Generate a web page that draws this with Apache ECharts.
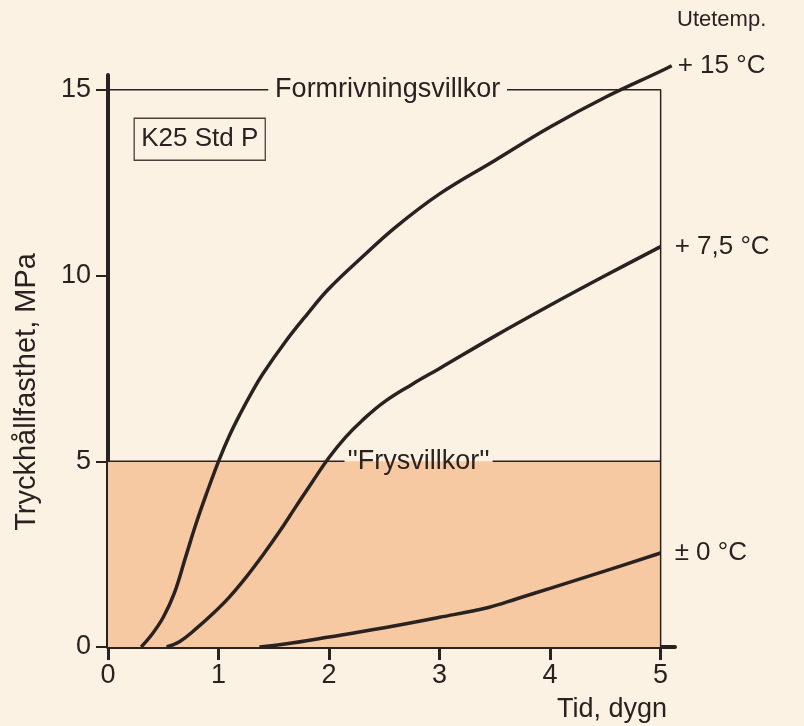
<!DOCTYPE html>
<html><head><meta charset="utf-8">
<script src="https://cdn.jsdelivr.net/npm/echarts@6/dist/echarts.min.js"></script>
<style>html,body{margin:0;padding:0;background:#fbf2e4}#c{width:804px;height:726px}</style>
</head><body><div id="c"></div>
<script>
// tick labels
const xTicks = [0, 1, 2, 3, 4, 5];
const yTicks = [0, 5, 10, 15];
// +15 °C
const t15 = [0.3, 0.4, 0.5, 0.6, 0.7, 0.8, 0.9, 1.0, 1.1, 1.2, 1.3, 1.4, 1.6, 1.8, 2.0, 2.3, 2.6, 3.0, 3.5, 4.0, 4.5, 5.0, 5.1];
const v15 = [0, 0.35, 0.8, 1.45, 2.4, 3.35, 4.2, 5.0, 5.7, 6.3, 6.85, 7.35, 8.2, 8.95, 9.65, 10.5, 11.3, 12.2, 13.1, 14.0, 14.8, 15.5, 15.65];
// +7,5 °C
const t75 = [0.53, 0.65, 0.8, 0.95, 1.1, 1.25, 1.4, 1.55, 1.7, 1.85, 2.0, 2.15, 2.3, 2.5, 2.75, 3.0, 3.5, 4.0, 4.5, 5.0];
const v75 = [0, 0.15, 0.5, 0.9, 1.35, 1.88, 2.47, 3.1, 3.78, 4.45, 5.1, 5.65, 6.1, 6.6, 7.07, 7.5, 8.37, 9.2, 10.0, 10.78];
// ±0 °C
const t0 = [1.37, 1.6, 2.0, 2.5, 3.0, 3.45, 3.7, 4.0, 4.5, 5.0];
const v0 = [0, 0.08, 0.27, 0.52, 0.8, 1.07, 1.3, 1.58, 2.05, 2.53];
// conditions
const frysLevel = 5;
const formLevel = 15;
const tEnd = 5;
const curveNames = ['+ 15 °C', '+ 7,5 °C', '± 0 °C'];

const zip = (a, b) => a.map((x, i) => [x, b[i]]);
const FONT = '"Liberation Sans", Arial, Helvetica, sans-serif';
const INK = '#2a2220';
const CREAM = '#fbf2e4';
const ORANGE = '#f6c9a2';
const FS = 27;

const chart = echarts.init(document.getElementById('c'));

function curve(name, t, v, dist) {
  return {
    type: 'line', name: name, data: zip(t, v), smooth: 0.4,
    symbol: 'none', z: 5, clip: false,
    lineStyle: { color: INK, width: 3.5 },
    endLabel: { show: true, formatter: name, distance: dist, fontSize: FS - 1, color: INK, fontFamily: FONT }
  };
}
function seg(data, w) {
  return { type: 'line', data: data, symbol: 'none', z: 3, silent: true,
    lineStyle: { color: INK, width: w } };
}
function textMark(txt, x, y, extra) {
  return { type: 'scatter', symbolSize: 0, z: 6, silent: true,
    itemStyle: { opacity: 1 },
    data: [[x, y]],
    label: Object.assign({ show: true, position: 'inside', formatter: txt, fontSize: FS, color: INK, opacity: 1, fontFamily: FONT }, extra || {}) };
}

chart.setOption({
  backgroundColor: CREAM,
  animation: false,
  grid: { left: 108, right: 129, top: 75, bottom: 79 },
  xAxis: {
    type: 'value', min: 0, max: 5.13,
    axisLine: { show: true, lineStyle: { color: INK, width: 4 } },
    axisTick: { show: true, customValues: xTicks, length: 13, lineStyle: { color: INK, width: 3 } },
    axisLabel: { customValues: xTicks, fontSize: FS, color: INK, fontFamily: FONT, margin: 15 },
    splitLine: { show: false }
  },
  yAxis: {
    type: 'value', min: 0, max: 15.4,
    axisLine: { show: true, lineStyle: { color: INK, width: 4 } },
    axisTick: { show: true, customValues: yTicks, length: 12, lineStyle: { color: INK, width: 2 } },
    axisLabel: { customValues: yTicks, fontSize: FS, color: INK, fontFamily: FONT, margin: 17 },
    splitLine: { show: false }
  },
  graphic: [
    { type: 'text', left: 677, top: 9, style: { text: 'Utetemp.', fontSize: 22, fill: INK, fontFamily: FONT } },
    { type: 'text', right: 137, top: 696, style: { text: 'Tid, dygn', fontSize: FS, fill: INK, fontFamily: FONT } },
    { type: 'text', x: 27, y: 392, rotation: Math.PI / 2,
      style: { text: 'Tryckhållfasthet, MPa', fontSize: 29, fill: INK, fontFamily: FONT, align: 'center', verticalAlign: 'middle' } }
  ],
  series: [
    { type: 'line', data: [], z: 1, silent: true,
      markArea: { silent: true, itemStyle: { color: ORANGE }, data: [[{ coord: [0, 0] }, { coord: [tEnd, frysLevel] }]] } },
    seg([[0, frysLevel], [2.14, frysLevel]], 1.5),
    seg([[3.48, frysLevel], [tEnd, frysLevel]], 1.5),
    seg([[0, formLevel], [1.45, formLevel]], 1.5),
    seg([[3.61, formLevel], [tEnd, formLevel], [tEnd, 0]], 1.5),
    curve(curveNames[0], t15, v15, 6),
    curve(curveNames[1], t75, v75, 14),
    curve(curveNames[2], t0, v0, 14),
    textMark('Formrivningsvillkor', 2.53, formLevel),
    textMark("''Frysvillkor''", 2.81, frysLevel),
    textMark('K25 Std P', 0.83, 13.67, { fontSize: 26, borderColor: '#4a403a', borderWidth: 1.3, padding: [8, 7, 8, 7] })
  ]
});
</script></body></html>
